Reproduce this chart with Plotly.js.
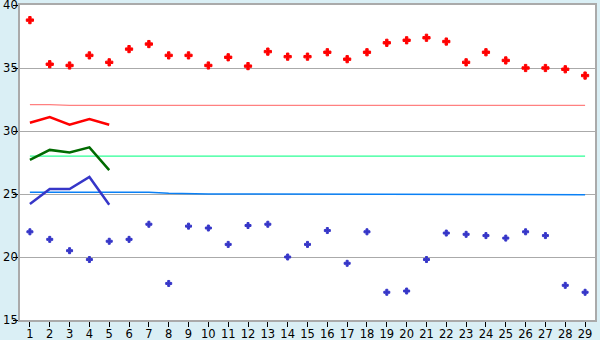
<!DOCTYPE html>
<html>
<head>
<meta charset="utf-8">
<script src="https://cdn.plot.ly/plotly-3.0.1.min.js"></script>
<style>html,body{margin:0;padding:0;background:#daeff5;}#chart{width:600px;height:340px;}</style>
</head>
<body>
<div id="chart"></div>
<script>
var categories = [1,2,3,4,5,6,7,8,9,10,11,12,13,14,15,16,17,18,19,20,21,22,23,24,25,26,27,28,29];
var upperPoints = [38.8,35.3,35.2,36.0,35.45,36.5,36.9,36.0,36.0,35.2,35.85,35.15,36.3,35.9,35.9,36.25,35.7,36.25,37.0,37.2,37.4,37.1,35.45,36.25,35.6,35.0,35.0,34.9,34.4];
var lowerPoints = [22.0,21.4,20.5,19.8,21.25,21.4,22.6,17.9,22.45,22.3,21.0,22.5,22.6,20.0,21.0,22.1,19.5,22.0,17.2,17.3,19.8,21.9,21.8,21.7,21.5,22.0,21.7,17.75,17.2];
var lineCats = [1,2,3,4,5];
var redLine = [30.65,31.1,30.5,30.95,30.5];
var greenLine = [27.7,28.5,28.3,28.7,26.9];
var blueLine = [24.2,25.4,25.4,26.35,24.15];
var pinkLevel = [32.1,32.1,32.03,32.03,32.03,32.03,32.03,32.03,32.03,32.03,32.03,32.03,32.03,32.03,32.03,32.03,32.03,32.03,32.03,32.03,32.03,32.03,32.03,32.03,32.03,32.03,32.03,32.03,32.03];
var mintLevel = [28.0,28.0,28.0,28.0,28.0,28.0,28.0,28.0,28.0,28.0,28.0,28.0,28.0,28.0,28.0,28.0,28.0,28.0,28.0,28.0,28.0,28.0,28.0,28.0,28.0,28.0,28.0,28.0,28.0];
var skyLevel = [25.13,25.13,25.13,25.13,25.13,25.13,25.13,25.05,25.0,25.0,25.0,25.0,25.0,25.0,25.0,25.0,25.0,25.0,25.0,25.0,25.0,25.0,24.95,24.95,24.95,24.95,24.95,24.95,24.95];
var yTicks = [15,20,25,30,35,40];

var traces = [
  {x: categories, y: pinkLevel, mode: 'lines', line: {color: '#ff8080', width: 1.2}},
  {x: categories, y: mintLevel, mode: 'lines', line: {color: '#2bff95', width: 1.2}},
  {x: categories, y: skyLevel, mode: 'lines', line: {color: '#0a80f5', width: 1.5}},
  {x: lineCats, y: redLine, mode: 'lines', line: {color: '#ff0000', width: 2.5}},
  {x: lineCats, y: greenLine, mode: 'lines', line: {color: '#006a00', width: 2.5}},
  {x: lineCats, y: blueLine, mode: 'lines', line: {color: '#3636c8', width: 2.5}},
  {x: categories, y: upperPoints, mode: 'markers', marker: {symbol: 'cross', size: 6, color: '#ff0000', line: {width: 1, color: '#ff0000'}}},
  {x: categories, y: lowerPoints, mode: 'markers', marker: {symbol: 'cross', size: 5, color: '#3636c8', line: {width: 1, color: '#3636c8'}}}
];

var layout = {
  width: 600, height: 340,
  margin: {l: 20, r: 5, t: 5, b: 20, pad: 0},
  paper_bgcolor: '#daeff5',
  plot_bgcolor: '#ffffff',
  showlegend: false,
  font: {family: 'DejaVu Sans, Verdana, sans-serif', size: 12, color: '#000000'},
  xaxis: {
    range: [0.5, 29.5], tickvals: categories, ticktext: categories.map(String),
    showgrid: false, zeroline: false, showline: true, linecolor: '#aaaaaa', linewidth: 2, mirror: true,
    ticks: 'outside', ticklen: 5, tickcolor: '#000000', tickwidth: 1, automargin: false,
    ticklabelstandoff: -3, tickfont: {size: 11.5}, ticklabeloverflow: 'allow'
  },
  yaxis: {
    range: [15, 40], tickvals: yTicks,
    showgrid: true, gridcolor: '#aaaaaa', gridwidth: 1, zeroline: false,
    showline: true, linecolor: '#aaaaaa', linewidth: 2, mirror: true,
    ticks: 'outside', ticklen: 5, tickcolor: '#000000', tickwidth: 1, automargin: false,
    ticklabelstandoff: -7, tickfont: {size: 11.5}, ticklabeloverflow: 'allow'
  }
};

Plotly.newPlot('chart', traces, layout, {staticPlot: true, displayModeBar: false});
</script>
</body>
</html>
